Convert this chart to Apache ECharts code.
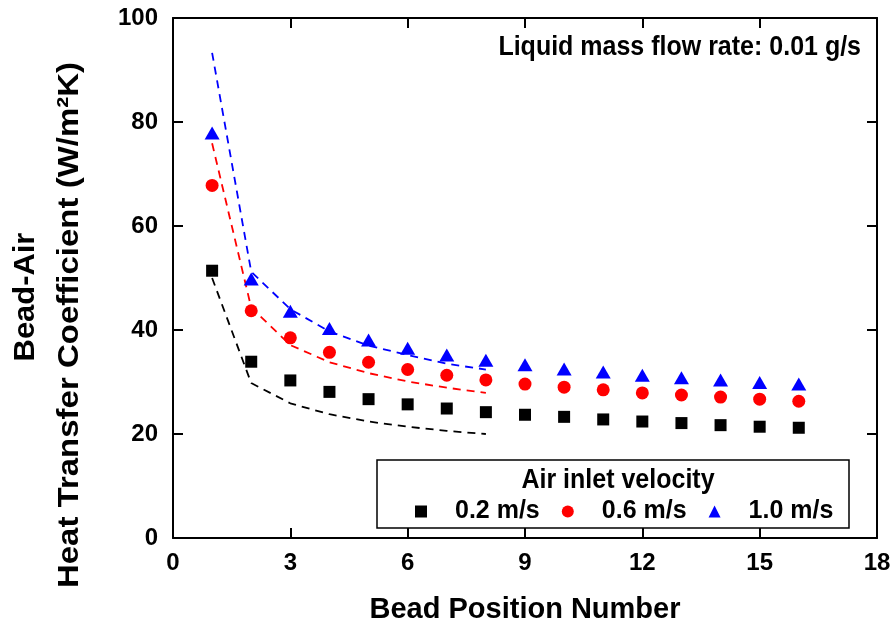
<!DOCTYPE html>
<html>
<head>
<meta charset="utf-8">
<script src="https://cdn.jsdelivr.net/npm/echarts@6/dist/echarts.min.js"></script>
<style>
  html, body { margin: 0; padding: 0; background: #fff; }
  #chart { width: 896px; height: 629px; }
</style>
</head>
<body>
<div id="chart"></div>
<script>
// ---- data ----
const beadPositions = [1, 2, 3, 4, 5, 6, 7, 8, 9, 10, 11, 12, 13, 14, 15, 16];
const h02 = [51.4, 33.9, 30.3, 28.1, 26.7, 25.7, 24.9, 24.2, 23.7, 23.3, 22.8, 22.4, 22.1, 21.7, 21.4, 21.2];
const h06 = [67.8, 43.7, 38.5, 35.7, 33.8, 32.4, 31.3, 30.4, 29.6, 29.0, 28.5, 27.9, 27.5, 27.1, 26.7, 26.3];
const h10 = [77.9, 49.8, 43.6, 40.3, 38.1, 36.5, 35.2, 34.2, 33.3, 32.5, 31.9, 31.3, 30.8, 30.4, 29.9, 29.6];
const fitPositions = [1, 2, 3, 4, 5, 6, 7, 8];
const fit02 = [50.0, 29.8, 25.9, 23.8, 22.4, 21.4, 20.6, 20.0];
const fit06 = [75.9, 44.3, 37.1, 33.8, 31.7, 30.1, 28.9, 27.9];
const fit10 = [93.3, 51.2, 44.0, 39.7, 37.0, 35.2, 33.5, 32.4];
const seriesNames = ['0.2 m/s', '0.6 m/s', '1.0 m/s'];
const xTicks = { min: 0, max: 18, interval: 3 };
const yTicks = { min: 0, max: 100, interval: 20 };

const FONT = 'Liberation Sans, Arial, sans-serif';
const pair = (xs, ys) => xs.map((x, i) => [x, ys[i]]);

const axisCommon = {
  axisLine: { show: true, onZero: false, lineStyle: { color: '#000', width: 2 } },
  axisTick: { show: true, inside: true, length: 10, lineStyle: { color: '#000', width: 2 } },
  splitLine: { show: false }
};

const chart = echarts.init(document.getElementById('chart'), null, { renderer: 'canvas' });
chart.setOption({
  backgroundColor: '#fff',
  animation: false,
  grid: { left: 173, right: 19, top: 18, bottom: 91 },
  xAxis: [
    Object.assign({
      type: 'value', position: 'bottom', min: xTicks.min, max: xTicks.max, interval: xTicks.interval,
      name: 'Bead Position Number', nameLocation: 'middle', nameGap: 57,
      nameTextStyle: { fontFamily: FONT, fontWeight: 'bold', fontSize: 29, color: '#000' },
      axisLabel: { margin: 13, fontFamily: FONT, fontWeight: 'bold', fontSize: 24, color: '#000' }
    }, axisCommon),
    Object.assign({
      type: 'value', position: 'top', min: xTicks.min, max: xTicks.max, interval: xTicks.interval,
      axisLabel: { show: false }
    }, axisCommon)
  ],
  yAxis: [
    Object.assign({
      type: 'value', position: 'left', min: yTicks.min, max: yTicks.max, interval: yTicks.interval,
      axisLabel: { margin: 15, fontFamily: FONT, fontWeight: 'bold', fontSize: 24, color: '#000' }
    }, axisCommon),
    Object.assign({
      type: 'value', position: 'right', min: yTicks.min, max: yTicks.max, interval: yTicks.interval,
      axisLabel: { show: false }
    }, axisCommon)
  ],
  legend: {
    data: seriesNames,
    orient: 'horizontal',
    left: 415, top: 499, padding: 0,
    itemWidth: 12, itemHeight: 12, itemGap: 22,
    textStyle: { fontFamily: FONT, fontWeight: 'bold', fontSize: 25, color: '#000', padding: [0, 0, 0, 23] },
    z: 10
  },
  graphic: [
    { type: 'rect', z: 5, shape: { x: 377, y: 460, width: 472, height: 68 },
      style: { fill: '#fff', stroke: '#000', lineWidth: 1.5 } },
    { type: 'text', z: 6, x: 618, y: 481, scaleY: 1.08,
      style: { text: 'Air inlet velocity', fill: '#000', font: 'bold 25px ' + FONT, textAlign: 'center', textVerticalAlign: 'middle' } },
    { type: 'text', z: 6, x: 861, y: 48, scaleY: 1.08,
      style: { text: 'Liquid mass flow rate: 0.01 g/s', fill: '#000', font: 'bold 25px ' + FONT, textAlign: 'right', textVerticalAlign: 'middle' } },
    { type: 'text', z: 6, x: 26, y: 297, rotation: Math.PI / 2, scaleX: 1.03,
      style: { text: 'Bead-Air', fill: '#000', font: 'bold 30px ' + FONT, textAlign: 'center', textVerticalAlign: 'middle' } },
    { type: 'text', z: 6, x: 70, y: 325, rotation: Math.PI / 2, scaleX: 1.1,
      style: { text: 'Heat Transfer Coefficient (W/m²K)', fill: '#000', font: 'bold 30px ' + FONT, textAlign: 'center', textVerticalAlign: 'middle' } }
  ],
  series: [
    { name: 'fit 0.2', type: 'line', data: pair(fitPositions, fit02), symbol: 'none', z: 2,
      lineStyle: { color: '#000', width: 1.8, type: [8, 6] } },
    { name: 'fit 0.6', type: 'line', data: pair(fitPositions, fit06), symbol: 'none', z: 2,
      lineStyle: { color: '#ff0000', width: 1.8, type: [8, 6] } },
    { name: 'fit 1.0', type: 'line', data: pair(fitPositions, fit10), symbol: 'none', z: 2,
      lineStyle: { color: '#0000ff', width: 1.8, type: [8, 6] } },
    { name: seriesNames[0], type: 'scatter', data: pair(beadPositions, h02), symbol: 'rect', symbolSize: 12, z: 3,
      itemStyle: { color: '#000', opacity: 1 } },
    { name: seriesNames[1], type: 'scatter', data: pair(beadPositions, h06), symbol: 'circle', symbolSize: 13, z: 3,
      itemStyle: { color: '#ff0000', opacity: 1 } },
    { name: seriesNames[2], type: 'scatter', data: pair(beadPositions, h10), symbol: 'triangle', symbolSize: [15, 13], z: 3,
      itemStyle: { color: '#0000ff', opacity: 1 } }
  ]
});
</script>
</body>
</html>
